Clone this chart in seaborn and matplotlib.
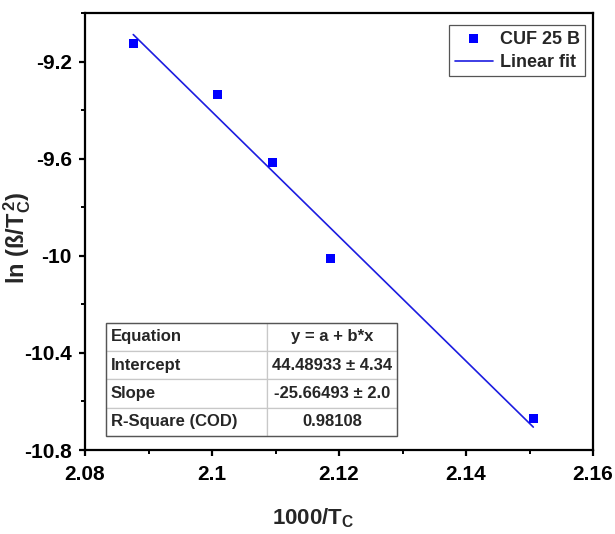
import numpy as np
import pandas as pd
import matplotlib
matplotlib.use("Agg")
import matplotlib.pyplot as plt
from matplotlib.ticker import MultipleLocator
import seaborn as sns

# Kissinger-type data: 1000/Tc vs ln(beta/Tc^2)
inv_tc = [2.0876, 2.1009, 2.1096, 2.1186, 2.1506]
ln_beta = [-9.126, -9.336, -9.616, -10.012, -10.671]

# Linear fit parameters
intercept = 44.48933
slope = -25.66493
table_rows = ["Equation", "Intercept", "Slope", "R-Square (COD)"]
table_vals = ["y = a + b*x", "44.48933 \u00b1 4.34", "-25.66493 \u00b1 2.0", "0.98108"]

sns.set_theme(style="ticks")
plt.rcParams["font.family"] = ["Liberation Sans", "DejaVu Sans"]
plt.rcParams["font.weight"] = "bold"
plt.rcParams["mathtext.fontset"] = "custom"
plt.rcParams["mathtext.rm"] = "Liberation Sans:bold"
plt.rcParams["mathtext.it"] = "Liberation Sans:bold"
plt.rcParams["mathtext.bf"] = "Liberation Sans:bold"

fig = plt.figure(figsize=(6.15, 5.34), dpi=100)
ax = fig.add_axes([85 / 615, 84 / 534, 508 / 615, 437 / 534])

df = pd.DataFrame({"x": inv_tc, "y": ln_beta})
fit_x = np.array([min(inv_tc), max(inv_tc)])
fit_df = pd.DataFrame({"x": fit_x, "y": intercept + slope * fit_x})

sns.scatterplot(data=df, x="x", y="y", ax=ax, marker="s", s=42, color="#0000ff",
                edgecolor="none", label="CUF 25 B", zorder=3)
sns.lineplot(data=fit_df, x="x", y="y", ax=ax, color="#1c1ce0", linewidth=1.2,
             label="Linear fit", zorder=2)

ax.set_xlim(2.08, 2.16)
ax.set_ylim(-10.8, -9.0)
ax.xaxis.set_minor_locator(MultipleLocator(0.01))
ax.yaxis.set_minor_locator(MultipleLocator(0.2))
ax.set_xticks([2.08, 2.10, 2.12, 2.14, 2.16])
ax.set_xticklabels(["2.08", "2.1", "2.12", "2.14", "2.16"])
ax.set_yticks([-10.8, -10.4, -10.0, -9.6, -9.2])
ax.set_yticklabels(["-10.8", "-10.4", "-10", "-9.6", "-9.2"])

for sp in ax.spines.values():
    sp.set_linewidth(1.6)
    sp.set_color("black")
ax.tick_params(which="major", direction="out", length=4, width=1.6, labelsize=15,
               colors="black")
ax.tick_params(axis="x", which="major", pad=6.5)
ax.tick_params(axis="y", which="major", pad=5.5)
ax.tick_params(which="minor", direction="out", length=3, width=1.4, colors="black")
for lbl in ax.get_xticklabels() + ax.get_yticklabels():
    lbl.set_fontweight("bold")

ax.set_xlabel(r"1000/T$_\mathrm{C}$", fontsize=16, fontweight="bold")
ax.xaxis.set_label_coords(0.45, -0.128)
ax.set_ylabel(r"ln (ß/T$_\mathrm{C}^{\/\mathrm{2}}$)", fontsize=17, fontweight="bold")
ax.yaxis.set_label_coords(-0.102, 0.485)

leg = ax.legend(loc="upper right", bbox_to_anchor=(0.985, 0.972), borderaxespad=0,
                fancybox=False, framealpha=1, edgecolor="#555555",
                handlelength=2.1, handletextpad=0.4, borderpad=0.3, labelspacing=0.35,
                prop={"weight": "bold", "size": 13})
leg.get_frame().set_linewidth(0.9)

tbl = ax.table(cellText=[[r, v] for r, v in zip(table_rows, table_vals)],
               colWidths=[0.553, 0.447], bbox=[0.041, 0.032, 0.573, 0.259],
               cellLoc="center", zorder=4)
tbl.auto_set_font_size(False)
for (r, c), cell in tbl.get_celld().items():
    cell.set_edgecolor("#c8c8c8")
    cell.set_linewidth(0.9)
    cell.get_text().set_fontsize(12)
    cell.get_text().set_fontweight("bold")
    if c == 0:
        cell.get_text().set_horizontalalignment("left")
        cell.PAD = 0.03
# darker outer border for the table
x0, y0, w, h = 0.041, 0.032, 0.573, 0.259
ax.add_patch(plt.Rectangle((x0, y0), w, h, transform=ax.transAxes, fill=False,
                           edgecolor="#555555", linewidth=1.0, zorder=5))

fig.savefig("out.png", dpi=100)
